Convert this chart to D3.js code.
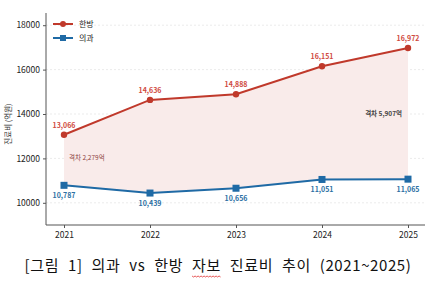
<!DOCTYPE html>
<html>
<head>
<meta charset="utf-8">
<script src="https://cdn.jsdelivr.net/npm/d3@7"></script>
<style>
    body { margin: 0; background: #fff; }
    svg { display: block; }
    .tick text { font-family: "Noto Sans CJK KR", "Noto Sans", sans-serif; }
</style>
</head>
<body>
<div id="chart"></div>
<script>
const years = ["2021", "2022", "2023", "2024", "2025"];
const hanbang = [13066, 14636, 14888, 16151, 16972];
const uigwa = [10787, 10439, 10656, 11051, 11065];
const yTicks = [10000, 12000, 14000, 16000, 18000];
const gapNotes = [
    { year: "2021", text: "격차 2,279억" },
    { year: "2025", text: "격차 5,907억" },
];

const width = 431,
    height = 281,
    font = '"Noto Sans CJK KR", "Noto Sans", sans-serif';
const red = "#c0392b",
    blue = "#1f6aa5";

const svg = d3.select("#chart").append("svg").attr("width", width).attr("height", height);

const x = d3.scalePoint().domain(years).range([64, 408]);
const y = d3.scaleLinear().domain([9000, 18550]).range([225, 13]);

// grid
svg.append("g")
    .selectAll("line")
    .data(yTicks)
    .enter()
    .append("line")
    .attr("x1", 46)
    .attr("x2", 424)
    .attr("y1", (d) => y(d))
    .attr("y2", (d) => y(d))
    .attr("stroke", "#e6e6e6")
    .attr("stroke-width", 0.8)
    .attr("stroke-dasharray", "2,2");

// gap band
const rows = years.map((yr, i) => ({ yr, h: hanbang[i], u: uigwa[i] }));
svg.append("path")
    .datum(rows)
    .attr("fill", "#f9ebea")
    .attr("d", d3.area().x((d) => x(d.yr)).y0((d) => y(d.u)).y1((d) => y(d.h)));

// axes
const xAxis = svg.append("g")
    .attr("transform", "translate(0,225)")
    .call(d3.axisBottom(x).tickSize(3).tickPadding(4));
xAxis.select(".domain").attr("d", "M46,0H425").attr("stroke", "#555");
xAxis.selectAll(".tick line").attr("stroke", "#555");
xAxis.selectAll(".tick text").attr("font-size", 8.5).attr("fill", "#222");

const yAxis = svg.append("g")
    .attr("transform", "translate(46,0)")
    .call(d3.axisLeft(y).tickValues(yTicks).tickFormat(d3.format("d")).tickSize(3).tickPadding(3));
yAxis.select(".domain").attr("d", "M0,13V225").attr("stroke", "#555");
yAxis.selectAll(".tick line").attr("stroke", "#555");
yAxis.selectAll(".tick text").attr("font-size", 8.5).attr("fill", "#222");

svg.append("text")
    .attr("transform", "translate(11,124) rotate(-90)")
    .attr("text-anchor", "middle")
    .attr("font-family", font)
    .attr("font-size", 7.5)
    .attr("fill", "#333")
    .text("진료비 (억원)");

// lines
const line = d3.line();
svg.append("path")
    .attr("d", line(years.map((yr, i) => [x(yr), y(hanbang[i])])))
    .attr("fill", "none")
    .attr("stroke", red)
    .attr("stroke-width", 2);
svg.append("path")
    .attr("d", line(years.map((yr, i) => [x(yr), y(uigwa[i])])))
    .attr("fill", "none")
    .attr("stroke", blue)
    .attr("stroke-width", 2);

svg.selectAll(".dot-h")
    .data(rows)
    .enter()
    .append("circle")
    .attr("cx", (d) => x(d.yr))
    .attr("cy", (d) => y(d.h))
    .attr("r", 3.2)
    .attr("fill", red);
svg.selectAll(".dot-u")
    .data(rows)
    .enter()
    .append("rect")
    .attr("x", (d) => x(d.yr) - 3.5)
    .attr("y", (d) => y(d.u) - 3.5)
    .attr("width", 7)
    .attr("height", 7)
    .attr("fill", blue);

// value labels
const fmt = d3.format(",");
svg.selectAll(".lab-h")
    .data(rows)
    .enter()
    .append("text")
    .attr("x", (d) => x(d.yr))
    .attr("y", (d) => y(d.h) - 7)
    .attr("text-anchor", "middle")
    .attr("font-family", font)
    .attr("font-weight", "bold")
    .attr("font-size", 7)
    .attr("fill", "#d04a3e")
    .text((d) => fmt(d.h));
svg.selectAll(".lab-u")
    .data(rows)
    .enter()
    .append("text")
    .attr("x", (d) => x(d.yr))
    .attr("y", (d) => y(d.u) + 13)
    .attr("text-anchor", "middle")
    .attr("font-family", font)
    .attr("font-weight", "bold")
    .attr("font-size", 7)
    .attr("fill", "#2c6fa3")
    .text((d) => fmt(d.u));

// gap notes
svg.append("text")
    .attr("x", x(gapNotes[0].year) + 5)
    .attr("y", y(12000) + 2)
    .attr("font-family", font)
    .attr("font-size", 6.5)
    .attr("fill", "#8e4343")
    .text(gapNotes[0].text);
svg.append("text")
    .attr("x", x(gapNotes[1].year) - 6)
    .attr("y", y(14000) + 2)
    .attr("text-anchor", "end")
    .attr("font-family", font)
    .attr("font-weight", "bold")
    .attr("font-size", 6.5)
    .attr("fill", "#444")
    .text(gapNotes[1].text);

// legend
const legend = [
    { name: "한방", color: red, shape: "circle" },
    { name: "의과", color: blue, shape: "square" },
];
const lg = svg.append("g").selectAll("g").data(legend).enter().append("g")
    .attr("transform", (d, i) => `translate(53,${24 + i * 14})`);
lg.append("line").attr("x1", 0).attr("x2", 20).attr("stroke", (d) => d.color).attr("stroke-width", 2);
lg.filter((d) => d.shape === "circle").append("circle").attr("cx", 10).attr("r", 3).attr("fill", (d) => d.color);
lg.filter((d) => d.shape === "square").append("rect").attr("x", 7).attr("y", -3).attr("width", 6).attr("height", 6).attr("fill", (d) => d.color);
lg.append("text")
    .attr("x", 26)
    .attr("y", 3)
    .attr("font-family", font)
    .attr("font-size", 8)
    .attr("fill", "#222")
    .text((d) => d.name);

// caption
const cap = svg.append("text")
    .attr("x", 218)
    .attr("y", 271)
    .attr("text-anchor", "middle")
    .attr("font-family", font)
    .attr("font-size", 15)
    .attr("letter-spacing", 0.6)
    .attr("word-spacing", 5)
    .attr("fill", "#111");
cap.append("tspan").text("[그림 1] 의과 vs 한방 ");
const jabo = cap.append("tspan").text("자보");
cap.append("tspan").text(" 진료비 추이 (2021~2025)");

// spell-check squiggle under 자보
const jb = jabo.node().getBBox();
const wave = [];
for (let px = jb.x; px <= jb.x + jb.width; px += 1.5) {
    wave.push([px, jb.y + jb.height + 1 + ((Math.round((px - jb.x) / 1.5) % 2) ? 1 : 0)]);
}
svg.append("path")
    .attr("d", d3.line()(wave))
    .attr("fill", "none")
    .attr("stroke", "#e03030")
    .attr("stroke-width", 0.8);
</script>
</body>
</html>
